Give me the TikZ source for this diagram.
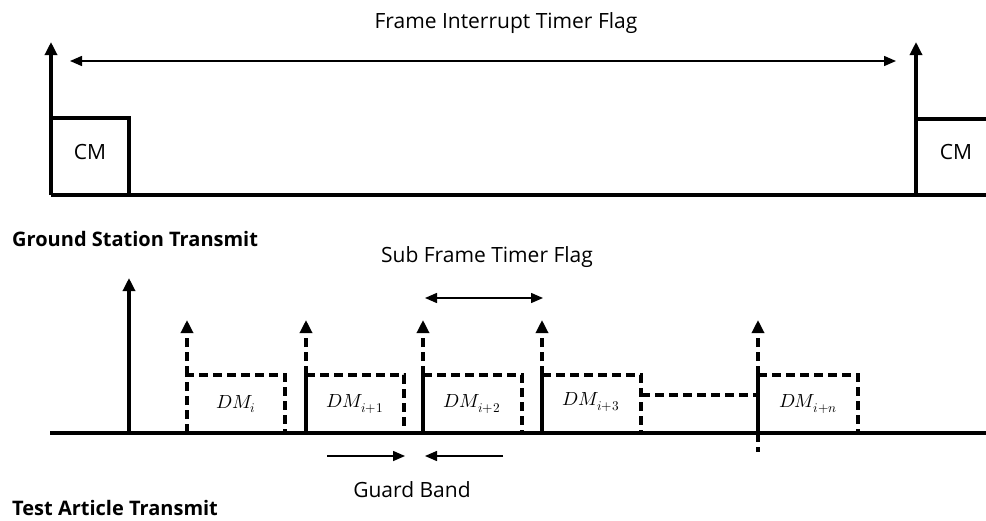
\documentclass[tikz,border=0pt]{standalone}
\usepackage{fontspec}
\usepackage{unicode-math}
\setmainfont{Open Sans}
\setmathfont{Latin Modern Math}
\usetikzlibrary{arrows.meta}
\begin{document}
\begin{tikzpicture}[x=1pt,y=-1pt,
  sig/.style={line width=3.2pt},
  dsig/.style={line width=3.2pt, dash pattern=on 9pt off 5pt},
  uptip/.style={-{Triangle[width=12pt,length=13pt]}},
  flag/.style={line width=1.5pt,{Triangle[width=10pt,length=12pt]}-{Triangle[width=10pt,length=12pt]}},
  gband/.style={line width=1.5pt,-{Triangle[width=10pt,length=12pt]}},
  lbl/.style={font=\fontsize{21}{25}\selectfont, inner sep=0pt, anchor=base},
  hdr/.style={font=\bfseries\fontsize{20}{24}\selectfont, inner sep=0pt, anchor=base west},
  dm/.style={font=\fontsize{19}{22}\selectfont, inner sep=0pt}
]
\useasboundingbox (0,0) rectangle (986,520);

% ---------- Ground station (top) ----------
\coordinate (gA) at (51,195);
\coordinate (gAtop) at (51,42);
\coordinate (gE) at (986,195);
\coordinate (cm1tl) at (51,118);
\coordinate (cm1tr) at (129,118);
\coordinate (cm1br) at (129,195);
\coordinate (gB) at (916,195);
\coordinate (gBtop) at (916,42);
\coordinate (cm2tl) at (916,119);
\coordinate (cm2tr) at (986,119);
\coordinate (fL) at (70,61);
\coordinate (fR) at (896,61);

\draw[sig] (gA) -- (gE);
\draw[sig,uptip] (gA) -- (gAtop);
\draw[sig] (cm1tl) -- (cm1tr) -- (cm1br);
\draw[sig,uptip] (gB) -- (gBtop);
\draw[sig] (cm2tl) -- (cm2tr);
\draw[flag] (fL) -- (fR);

\node[lbl] (cm1) at (90,159) {CM};
\node[lbl] (cm2) at (956,159) {CM};
\node[lbl] (fitf) at (506,28) {Frame Interrupt Timer Flag};
\node[hdr] (gst) at (12,246) {Ground Station Transmit};

% ---------- Test article (bottom) ----------
\coordinate (b0) at (50,433);
\coordinate (bE) at (986,433);
\coordinate (s0) at (129,433);
\coordinate (s0top) at (129,278);
\draw[sig] (b0) -- (bE);
\draw[sig,uptip] (s0) -- (s0top);

% DM_i (fully dashed)
\coordinate (d1bl) at (187,433);
\coordinate (d1tl) at (187,375);
\coordinate (d1tr) at (285,375);
\coordinate (d1br) at (285,433);
\coordinate (d1tip) at (187,320);
\draw[dsig] (d1bl) -- (d1tl) -- (d1tr) -- (d1br);
\draw[dsig,uptip] (d1tl) -- (d1tip);

% DM_{i+1}
\coordinate (d2bl) at (306,433);
\coordinate (d2tl) at (306,375);
\coordinate (d2tr) at (404,375);
\coordinate (d2br) at (404,433);
\coordinate (d2tip) at (306,320);
\draw[sig] (d2bl) -- (d2tl);
\draw[dsig] (d2tl) -- (d2tr) -- (d2br);
\draw[dsig,uptip] (d2tl) -- (d2tip);

% DM_{i+2}
\coordinate (d3bl) at (423,433);
\coordinate (d3tl) at (423,375);
\coordinate (d3tr) at (522,375);
\coordinate (d3br) at (522,433);
\coordinate (d3tip) at (423,320);
\draw[sig] (d3bl) -- (d3tl);
\draw[dsig] (d3tl) -- (d3tr) -- (d3br);
\draw[dsig,uptip] (d3tl) -- (d3tip);

% DM_{i+3}
\coordinate (d4bl) at (542,433);
\coordinate (d4tl) at (542,375);
\coordinate (d4tr) at (641,375);
\coordinate (d4br) at (641,433);
\coordinate (d4tip) at (542,320);
\coordinate (d4mid) at (641,395);
\draw[sig] (d4bl) -- (d4tl);
\draw[dsig] (d4tl) -- (d4tr) -- (d4br);
\draw[dsig,uptip] (d4tl) -- (d4tip);

% DM_{i+n}
\coordinate (d5bl) at (758,433);
\coordinate (d5tl) at (758,375);
\coordinate (d5tr) at (858,375);
\coordinate (d5br) at (858,433);
\coordinate (d5tip) at (758,320);
\coordinate (d5low) at (758,452);
\coordinate (d5mid) at (758,395);
\draw[sig] (d5bl) -- (d5tl);
\draw[dsig] (d5tl) -- (d5tr) -- (d5br);
\draw[dsig,uptip] (d5tl) -- (d5tip);
\draw[dsig] (d5bl) -- (d5low);
\draw[dsig] (d4mid) -- (d5mid);

\node[dm] (l1) at (236,404) {$DM_{i}$};
\node[dm] (l2) at (355,404) {$DM_{i+1}$};
\node[dm] (l3) at (472,404) {$DM_{i+2}$};
\node[dm] (l4) at (591,402) {$DM_{i+3}$};
\node[dm] (l5) at (808,404) {$DM_{i+n}$};

% Sub frame timer flag
\coordinate (sfL) at (425,298);
\coordinate (sfR) at (543,298);
\draw[flag] (sfL) -- (sfR);
\node[lbl] (sftf) at (487,262) {Sub Frame Timer Flag};

% Guard band
\coordinate (gb1s) at (327,456);
\coordinate (gb1e) at (405,456);
\coordinate (gb2s) at (503,456);
\coordinate (gb2e) at (425,456);
\draw[gband] (gb1s) -- (gb1e);
\draw[gband] (gb2s) -- (gb2e);
\node[lbl] (gbl) at (412,497) {Guard Band};

\node[hdr] (tat) at (12,515) {Test Article Transmit};
\end{tikzpicture}
\end{document}
